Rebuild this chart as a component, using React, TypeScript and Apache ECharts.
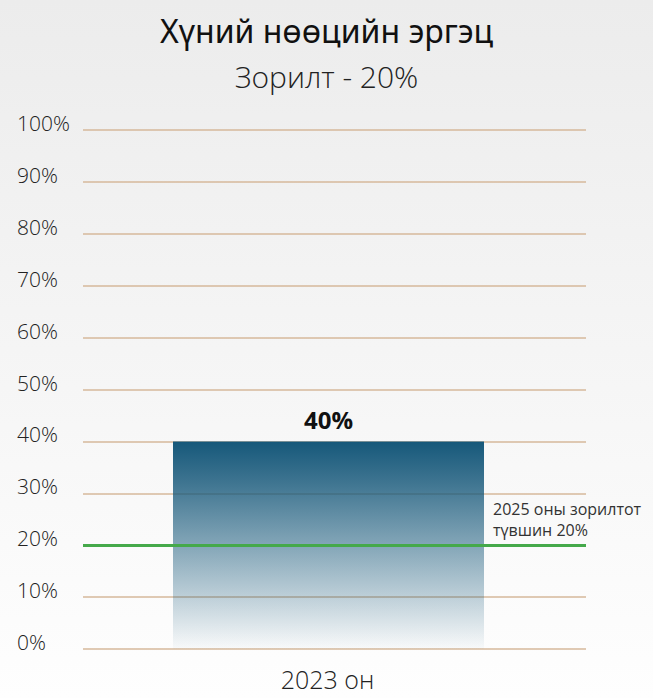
import React, { useEffect, useRef } from "react";
import * as echarts from "echarts";

const titleText = "Хүний нөөцийн эргэц";
const subtitleText = "Зорилт - 20%";
const categories = ["2023 он"];
const values = [40];
const targetValue = 20;
const targetLabel = "2025 оны зорилтот\nтүвшин 20%";
const yTicks = [0, 10, 20, 30, 40, 50, 60, 70, 80, 90, 100];

const LIGHT = "'Open Sans', 'Noto Sans', sans-serif";

export default function App() {
  const ref = useRef<HTMLDivElement>(null);
  useEffect(() => {
    if (!ref.current) return;
    const chart = echarts.init(ref.current, null, { renderer: "svg" });
    chart.setOption({
      animation: false,
      backgroundColor: {
        type: "linear",
        x: 0,
        y: 0,
        x2: 0,
        y2: 1,
        colorStops: [
          { offset: 0, color: "#ececec" },
          { offset: 1, color: "#fefefe" },
        ],
      },
      title: [
        {
          text: titleText,
          left: "center",
          top: 9,
          textStyle: { fontFamily: "'Noto Sans', sans-serif", fontSize: 32, fontWeight: "normal", color: "#111" },
        },
        {
          text: subtitleText,
          left: "center",
          top: 56,
          textStyle: { fontFamily: LIGHT, fontSize: 30, fontWeight: 300, color: "#222" },
        },
      ],
      grid: { left: 83, right: 67, top: 130, bottom: 49, containLabel: false },
      xAxis: {
        type: "category",
        data: categories,
        axisLine: { show: false },
        axisTick: { show: false },
        axisLabel: {
          margin: 17,
          fontFamily: LIGHT,
          fontWeight: 300,
          fontSize: 25,
          lineHeight: 26,
          color: "#222",
          padding: [0, 14, 0, 0],
        },
      },
      yAxis: {
        type: "value",
        min: yTicks[0],
        max: yTicks[yTicks.length - 1],
        interval: 10,
        axisLine: { show: false },
        axisTick: { show: false },
        axisLabel: {
          align: "left",
          verticalAlign: "bottom",
          lineHeight: 14,
          margin: 66,
          fontFamily: LIGHT,
          fontWeight: 300,
          fontSize: 21,
          color: "#222",
          formatter: (v: number) => v + "%",
        },
        splitLine: { lineStyle: { color: "#d6b99b", width: 1.5 } },
      },
      series: [
        {
          type: "bar",
          data: values,
          barWidth: 311,
          barGap: "0%",
          itemStyle: {
            color: {
              type: "linear",
              x: 0,
              y: 0,
              x2: 0,
              y2: 1,
              colorStops: [
                { offset: 0, color: "rgba(22,88,122,1)" },
                { offset: 0.2, color: "rgba(22,88,122,0.82)" },
                { offset: 1, color: "rgba(22,88,122,0.02)" },
              ],
            },
          },
          label: {
            show: true,
            position: "top",
            distance: 10,
            formatter: (p: any) => p.value + "%",
            fontFamily: "'Open Sans', sans-serif",
            fontWeight: 700,
            fontSize: 24,
            color: "#111",
          },
          markLine: {
            silent: true,
            symbol: ["none", "none"],
            lineStyle: { color: "#45a94a", width: 3, type: "solid" },
            label: {
              show: true,
              position: "insideEndTop",
              formatter: targetLabel,
              align: "left",
              offset: [-88, 0],
              distance: 5,
              fontFamily: LIGHT,
              fontWeight: 400,
              fontSize: 16,
              lineHeight: 21,
              color: "#333",
            },
            data: [{ yAxis: targetValue }],
          },
        },
        {
          type: "bar",
          data: values.map(() => 0),
          barWidth: 12,
          itemStyle: { color: "transparent" },
          silent: true,
        },
      ],
    });
    return () => chart.dispose();
  }, []);
  return (
    <div
      ref={ref}
      style={{ position: "absolute", left: 0, top: 0, width: 653, height: 698 }}
    />
  );
}
